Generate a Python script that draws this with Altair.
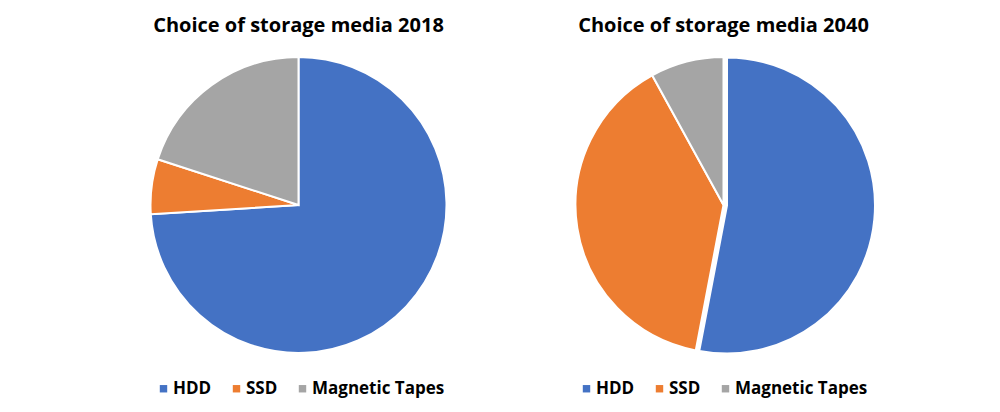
import altair as alt
import pandas as pd

categories = ["HDD", "SSD", "Magnetic Tapes"]
order_idx = [0, 1, 2]
share_2018 = [74, 6, 20]
share_2040 = [53, 39, 8]
colors = ["#4472C4", "#ED7D31", "#A5A5A5"]

FONT = "Open Sans"


def pie(values, title, legend_x, explode_first=False):
    df = pd.DataFrame({"media": categories, "share": values, "order": order_idx})
    base = alt.Chart(df).transform_window(
        end="sum(share)", sort=[alt.SortField("order")], frame=[None, 0]
    ).transform_calculate(start="datum.end - datum.share")
    enc = dict(
        theta=alt.Theta("start:Q", scale=alt.Scale(domain=[0, 100]), stack=False),
        theta2="end:Q",
        color=alt.Color(
            "media:N",
            scale=alt.Scale(domain=categories, range=colors),
            legend=alt.Legend(
                title=None,
                orient="none",
                legendX=legend_x,
                legendY=325,
                direction="horizontal",
                symbolType="square",
                symbolSize=55,
                symbolStrokeWidth=0,
                labelFont=FONT,
                labelFontSize=17,
                labelFontWeight="bold",
                labelColor="#000000",
                labelLimit=400,
                columnPadding=16,
                labelOffset=1,
                padding=0,
            ),
        ),
    )
    if explode_first:
        rest = base.transform_filter("datum.media != 'HDD'").mark_arc(
            outerRadius=148, stroke="white", strokeWidth=2
        ).encode(**enc)
        first = base.transform_filter("datum.media == 'HDD'").mark_arc(
            outerRadius=148, stroke="white", strokeWidth=2, xOffset=3.5, yOffset=0.5
        ).encode(**enc)
        ch = alt.layer(rest, first)
    else:
        ch = base.mark_arc(outerRadius=148, stroke="white", strokeWidth=2).encode(**enc)
    return ch.properties(
        width=425,
        height=300,
        title=alt.TitleParams(
            title, font=FONT, fontSize=20, fontWeight="bold", color="#000000",
            anchor="middle", offset=17,
        ),
    )


left = pie(share_2018, "Choice of storage media 2018", 69)
right = pie(share_2040, "Choice of storage media 2040", 67, explode_first=True)

chart = alt.hconcat(left, right, spacing=0).resolve_scale(color="independent").properties(
    padding={"left": 78, "top": 8, "right": 0, "bottom": 50},
    background="white",
).configure_view(stroke=None)

chart.save("out.html", embed_options={"renderer": "svg", "actions": False})
